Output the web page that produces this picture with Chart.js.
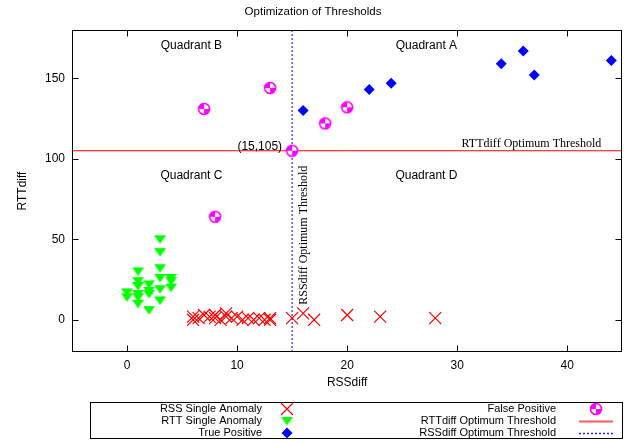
<!DOCTYPE html>
<html lang="en">
<head>
<meta charset="UTF-8">
<title>Optimization of Thresholds</title>
<script src="https://cdn.jsdelivr.net/npm/chart.js"></script>
<style>
    html, body { margin: 0; padding: 0; background: #fff; }
    #wrap { width: 632px; height: 442px; position: relative; }
</style>
</head>
<body>
<div id="wrap"><canvas id="chart"></canvas></div>
<script>
// RSS single anomaly (red crosses)
const rssX = [6, 6, 6.5, 7, 7.5, 8, 8, 8.5, 9, 9, 9.5, 10, 10.5, 11, 11.5, 12, 12.5, 13, 13, 15, 16, 17, 20, 23, 28];
const rssY = [0, 2, 1, 3, 2, 1, 3, 0, 2, 4, 1, 2, 0, 1, 0, 1, 0, 1, 0, 1, 4, 0, 3, 2, 1];
// RTT single anomaly (green triangles)
const rttX = [0, 0, 1, 1, 1, 1, 1, 1, 2, 2, 2, 2, 3, 3, 3, 3, 3, 3, 4, 4, 4];
const rttY = [17, 14, 30, 24, 21, 16, 14, 10, 22, 18, 16, 6, 50, 42, 32, 26, 19, 12, 26, 24, 20];
// true positives (blue diamonds)
const tpX = [16, 22, 24, 34, 36, 37, 44];
const tpY = [130, 143, 147, 159, 167, 152, 161];
// false positives
const fpX = [7, 8, 13, 15, 18, 20];
const fpY = [131, 64, 144, 105, 122, 132];
// thresholds
const rssThreshold = 15;
const rttThreshold = 105;
// axes
const xRange = [-5, 45];
const yRange = [-20, 180];
const xTicks = [0, 10, 20, 30, 40];
const yTicks = [0, 50, 100, 150];

const SANS = "'Liberation Sans', Arial, Helvetica, sans-serif";
const SERIF = "'Liberation Serif', 'Times New Roman', serif";

const pts = (xs, ys) => xs.map((x, i) => ({ x: x, y: ys[i] }));

// marker images
function makeQuadCircle() {
    const c = document.createElement('canvas');
    c.width = 14; c.height = 14;
    const g = c.getContext('2d');
    g.fillStyle = '#fff';
    g.beginPath(); g.arc(7, 7, 5.5, 0, Math.PI * 2); g.fill();
    g.fillStyle = '#ff00ff';
    g.beginPath(); g.moveTo(7, 7); g.arc(7, 7, 5.5, Math.PI, Math.PI * 1.5); g.closePath(); g.fill();
    g.beginPath(); g.moveTo(7, 7); g.arc(7, 7, 5.5, 0, Math.PI * 0.5); g.closePath(); g.fill();
    g.strokeStyle = '#ff00ff'; g.lineWidth = 1.6;
    g.beginPath(); g.arc(7, 7, 5.5, 0, Math.PI * 2); g.stroke();
    return c;
}
function makeDownTriangle() {
    const c = document.createElement('canvas');
    c.width = 13; c.height = 10;
    const g = c.getContext('2d');
    g.fillStyle = '#00ff00';
    g.beginPath(); g.moveTo(0.5, 1); g.lineTo(12.5, 1); g.lineTo(6.5, 9.5); g.closePath(); g.fill();
    return c;
}
const quadCircle = makeQuadCircle();
const downTri = makeDownTriangle();

// text, frame, ticks and legend drawn on top
const decorPlugin = {
    id: 'decor',
    afterDatasetsDraw(chart) {
        const ctx = chart.ctx;
        const xs = chart.scales.x, ys = chart.scales.y;
        const a = chart.chartArea;
        ctx.save();

        // quadrant labels
        ctx.fillStyle = '#000';
        ctx.font = '12px ' + SANS;
        ctx.textAlign = 'center';
        ctx.textBaseline = 'middle';
        ctx.fillText('Quadrant B', xs.getPixelForValue(5.85), ys.getPixelForValue(170));
        ctx.fillText('Quadrant A', xs.getPixelForValue(27.2), ys.getPixelForValue(170));
        ctx.fillText('Quadrant C', xs.getPixelForValue(5.85), ys.getPixelForValue(89.5));
        ctx.fillText('Quadrant D', xs.getPixelForValue(27.2), ys.getPixelForValue(89.5));

        // point label
        ctx.textAlign = 'right';
        ctx.fillText('(15,105)', xs.getPixelForValue(rssThreshold) - 10, ys.getPixelForValue(rttThreshold) - 4);

        // threshold labels
        ctx.font = '12px ' + SERIF;
        ctx.textBaseline = 'alphabetic';
        ctx.fillText('RTTdiff Optimum Threshold', a.right - 21, ys.getPixelForValue(rttThreshold) - 4);
        ctx.save();
        ctx.translate(xs.getPixelForValue(rssThreshold) + 12, ys.getPixelForValue(0) - 15);
        ctx.rotate(-Math.PI / 2);
        ctx.textAlign = 'left';
        ctx.textBaseline = 'middle';
        ctx.fillText('RSSdiff Optimum Threshold', 0, 0);
        ctx.restore();

        // frame
        ctx.strokeStyle = '#000';
        ctx.lineWidth = 1;
        const L = Math.round(a.left) + 0.5, R = Math.round(a.right) - 0.5;
        const T = Math.round(a.top) + 0.5, B = Math.round(a.bottom) - 0.5;
        ctx.strokeRect(L, T, R - L, B - T);
        ctx.beginPath();
        xTicks.forEach(v => {
            const px = Math.round(xs.getPixelForValue(v)) + 0.5;
            ctx.moveTo(px, B); ctx.lineTo(px, B - 6);
            ctx.moveTo(px, T); ctx.lineTo(px, T + 6);
        });
        yTicks.forEach(v => {
            const py = Math.round(ys.getPixelForValue(v)) + 0.5;
            ctx.moveTo(L, py); ctx.lineTo(L + 6, py);
            ctx.moveTo(R, py); ctx.lineTo(R - 6, py);
        });
        ctx.stroke();

        // legend box and labels
        ctx.strokeRect(90.5, 402.5, 532, 36);
        ctx.font = '11px ' + SANS;
        ctx.fillStyle = '#000';
        ctx.textAlign = 'right';
        ctx.textBaseline = 'middle';
        const rows = [409, 421, 433];
        ctx.fillText('RSS Single Anomaly', 262, rows[0]);
        ctx.fillText('RTT Single Anomaly', 262, rows[1]);
        ctx.fillText('True Positive', 262, rows[2]);
        ctx.fillText('False Positive', 556, rows[0]);
        ctx.fillText('RTTdiff Optimum Threshold', 556, rows[1]);
        ctx.fillText('RSSdiff Optimum Threshold', 556, rows[2]);

        // legend line samples
        ctx.fillStyle = 'rgb(255,90,90)';
        ctx.fillRect(579, rows[1] - 0.5, 34, 2);
        ctx.fillStyle = '#2020ff';
        for (let px = 579; px < 613; px += 4) ctx.fillRect(px, rows[2] - 0.25, 2, 1.5);

        // legend symbols
        ctx.lineWidth = 1.2;
        ctx.strokeStyle = '#ff0000';
        ctx.fillStyle = '#ff0000';
        Chart.helpers.drawPoint(ctx, { pointStyle: 'crossRot', radius: 8.5, borderWidth: 1.2, rotation: 0 }, 287, rows[0]);
        Chart.helpers.drawPoint(ctx, { pointStyle: downTri, radius: 6, borderWidth: 0, rotation: 0 }, 287, rows[1]);
        ctx.fillStyle = '#0000ff';
        ctx.strokeStyle = '#0000ff';
        Chart.helpers.drawPoint(ctx, { pointStyle: 'rectRot', radius: 5.5, borderWidth: 0, rotation: 0 }, 287, rows[2]);
        Chart.helpers.drawPoint(ctx, { pointStyle: quadCircle, radius: 6, borderWidth: 0, rotation: 0 }, 596, rows[0]);

        ctx.restore();
    }
};

Chart.defaults.color = '#000';
Chart.defaults.font.family = SANS;
Chart.defaults.font.size = 12;

new Chart(document.getElementById('chart'), {
    type: 'scatter',
    data: {
        datasets: [
            {
                label: 'False Positive',
                data: pts(fpX, fpY),
                pointStyle: quadCircle,
                pointRadius: 6
            },
            {
                label: 'True Positive',
                data: pts(tpX, tpY),
                pointStyle: 'rectRot',
                pointRadius: 5.5,
                backgroundColor: '#0000ff',
                borderColor: '#0000ff',
                borderWidth: 0
            },
            {
                label: 'RTT Single Anomaly',
                data: pts(rttX, rttY),
                pointStyle: downTri,
                pointRadius: 6
            },
            {
                label: 'RSS Single Anomaly',
                data: pts(rssX, rssY),
                pointStyle: 'crossRot',
                pointRadius: 8.5,
                borderColor: '#ff0000',
                backgroundColor: '#ff0000',
                borderWidth: 1.2
            },
            {
                label: 'RTTdiff Optimum Threshold',
                data: [{ x: xRange[0], y: rttThreshold }, { x: xRange[1], y: rttThreshold }],
                showLine: true,
                borderColor: '#ff0000',
                borderWidth: 1,
                pointRadius: 0
            },
            {
                label: 'RSSdiff Optimum Threshold',
                data: [{ x: rssThreshold, y: yRange[0] }, { x: rssThreshold, y: yRange[1] }],
                showLine: true,
                borderColor: '#0000ff',
                borderWidth: 1,
                borderDash: [2, 2],
                pointRadius: 0
            }
        ]
    },
    options: {
        responsive: true,
        maintainAspectRatio: false,
        animation: false,
        events: [],
        layout: { padding: { left: 0, right: 6, top: 0, bottom: 0 } },
        plugins: {
            legend: { display: false },
            tooltip: { enabled: false },
            title: {
                display: true,
                text: 'Optimization of Thresholds',
                font: { size: 11.5, weight: 'normal' },
                padding: { top: 5, bottom: 11.2 }
            }
        },
        scales: {
            x: {
                type: 'linear',
                min: xRange[0],
                max: xRange[1],
                grid: { display: false, drawTicks: false },
                border: { display: false },
                afterBuildTicks: s => { s.ticks = xTicks.map(v => ({ value: v })); },
                afterFit: s => { s.height = 90; },
                ticks: { padding: 6, font: { size: 12 }, maxRotation: 0 },
                title: { display: true, text: 'RSSdiff', font: { size: 12 }, padding: { top: 0, bottom: 52 } }
            },
            y: {
                type: 'linear',
                min: yRange[0],
                max: yRange[1],
                grid: { display: false, drawTicks: false },
                border: { display: false },
                afterBuildTicks: s => { s.ticks = yTicks.map(v => ({ value: v })); },
                afterFit: s => { s.width = 72; },
                ticks: { padding: 7, font: { size: 12 } },
                title: { display: true, text: 'RTTdiff', font: { size: 12 }, padding: { top: 15, bottom: 0 } }
            }
        }
    },
    plugins: [decorPlugin]
});
</script>
</body>
</html>
